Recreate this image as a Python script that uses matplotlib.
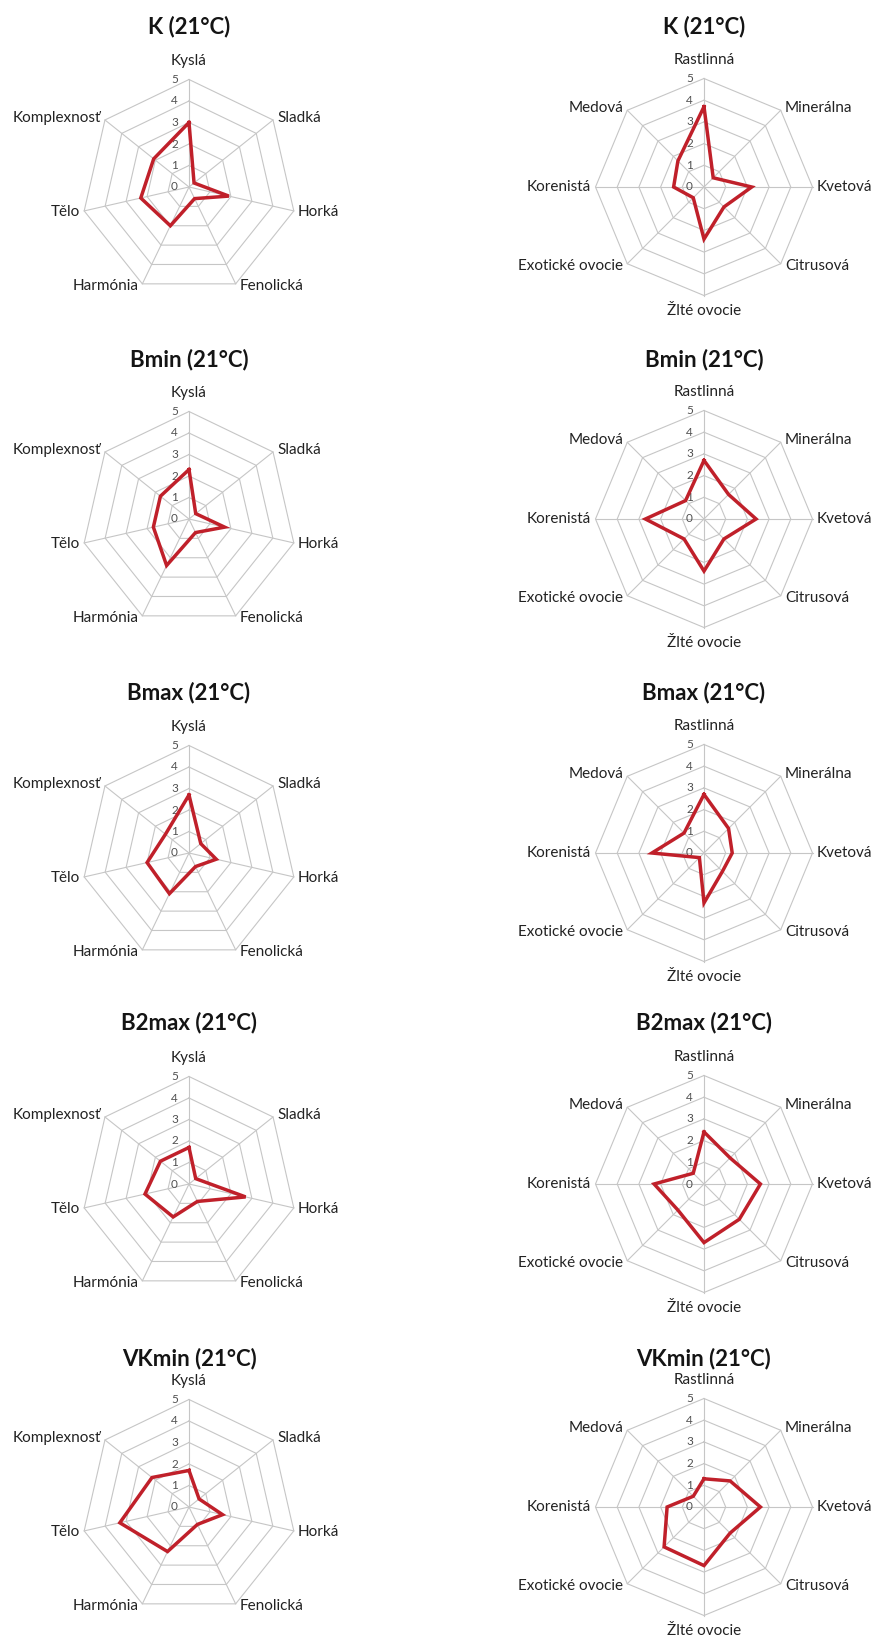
import numpy as np
import matplotlib
matplotlib.use("Agg")
import matplotlib.pyplot as plt

plt.rcParams['font.family'] = ['Lato', 'DejaVu Sans']

# Sensory attributes (taste profile, left column; aroma profile, right column)
taste_axes = ['Kyslá', 'Sladká', 'Horká', 'Fenolická', 'Harmónia', 'Tělo', 'Komplexnosť']
aroma_axes = ['Rastlinná', 'Minerálna', 'Kvetová', 'Citrusová', 'Žlté ovocie',
              'Exotické ovocie', 'Korenistá', 'Medová']

samples = ['K (21°C)', 'Bmin (21°C)', 'Bmax (21°C)', 'B2max (21°C)', 'VKmin (21°C)']

# Mean panel scores (0-5)
taste_K = [3.0, 0.3, 1.9, 0.6, 2.0, 2.3, 2.1]
taste_Bmin = [2.3, 0.4, 1.7, 0.7, 2.4, 1.7, 1.7]
taste_Bmax = [2.7, 0.7, 1.3, 0.7, 2.1, 2.0, 1.4]
taste_B2max = [1.7, 0.4, 2.7, 0.9, 1.7, 2.1, 1.7]
taste_VKmin = [1.7, 0.6, 1.6, 0.9, 2.3, 3.3, 2.2]

aroma_K = [3.7, 0.6, 2.2, 1.3, 2.4, 0.7, 1.4, 1.7]
aroma_Bmin = [2.7, 1.6, 2.4, 1.3, 2.4, 1.3, 2.7, 1.2]
aroma_Bmax = [2.7, 1.6, 1.3, 1.2, 2.3, 0.3, 2.4, 1.3]
aroma_B2max = [2.4, 1.7, 2.6, 2.3, 2.7, 1.7, 2.3, 0.7]
aroma_VKmin = [1.3, 1.7, 2.6, 1.7, 2.7, 2.6, 1.7, 0.7]

taste_values = [taste_K, taste_Bmin, taste_Bmax, taste_B2max, taste_VKmin]
aroma_values = [aroma_K, aroma_Bmin, aroma_Bmax, aroma_B2max, aroma_VKmin]

scale_ticks = [0, 1, 2, 3, 4, 5]

W, H = 874, 1639
fig = plt.figure(figsize=(W / 100, H / 100), dpi=100)
fig.patch.set_facecolor('white')

LINE_RED = '#c0202a'
GRID = '#c6c6c6'
TEXT = '#222222'

row_cy = [187, 519, 853, 1184, 1507]
title_y = [27, 360, 693, 1023, 1359]
col_cx = [189, 704]
col_R = [107.5, 108.5]


def radar(cx, cy, R, labels, values):
    rect = [(cx - R) / W, 1 - (cy + R) / H, 2 * R / W, 2 * R / H]
    ax = fig.add_axes(rect, projection='polar')
    ax.set_theta_zero_location('N')
    ax.set_theta_direction(-1)
    ax.set_ylim(0, 5)
    ax.grid(False)
    ax.set_xticks([])
    ax.set_yticks([])
    ax.spines['polar'].set_visible(False)
    ax.patch.set_alpha(0)

    n = len(labels)
    theta = np.arange(n) * 2 * np.pi / n
    closed = np.append(theta, theta[0])

    # polygon rings and spokes
    for k in scale_ticks[1:]:
        ax.plot(closed, [k] * (n + 1), color=GRID, lw=0.8, clip_on=False, zorder=1)
    for t in theta:
        ax.plot([t, t], [0, 5], color=GRID, lw=0.8, clip_on=False, zorder=1)

    # scale labels along the first spoke
    for k in scale_ticks:
        ax.annotate(str(k), xy=(0, k), xytext=(-8, 0), textcoords='offset points',
                    ha='right', va='center', fontsize=8.5, color='#505050', zorder=2)

    # category labels
    for t, lab in zip(theta, labels):
        s, c = np.sin(t), np.cos(t)
        if abs(s) < 1e-6:
            ha = 'center'
            va = 'bottom' if c > 0 else 'top'
            off = (0, 8) if c > 0 else (0, -6)
        else:
            ha = 'left' if s > 0 else 'right'
            va = 'center'
            off = (3 * np.sign(s), 2.0 * c)
        ax.annotate(lab, xy=(t, 5), xytext=off, textcoords='offset points',
                    ha=ha, va=va, fontsize=11, color=TEXT, annotation_clip=False)

    vals = list(values) + [values[0]]
    ax.plot(closed, vals, color=LINE_RED, lw=2.5, solid_joinstyle='miter',
            clip_on=False, zorder=3)
    return ax


for i, name in enumerate(samples):
    for j, (labels, series) in enumerate([(taste_axes, taste_values), (aroma_axes, aroma_values)]):
        radar(col_cx[j], row_cy[i], col_R[j], labels, series[i])
        fig.text(col_cx[j] / W, 1 - title_y[i] / H, name, ha='center', va='center',
                 fontsize=16, fontweight='bold', color='#141414')

fig.savefig('out.png', dpi=100, facecolor='white')
